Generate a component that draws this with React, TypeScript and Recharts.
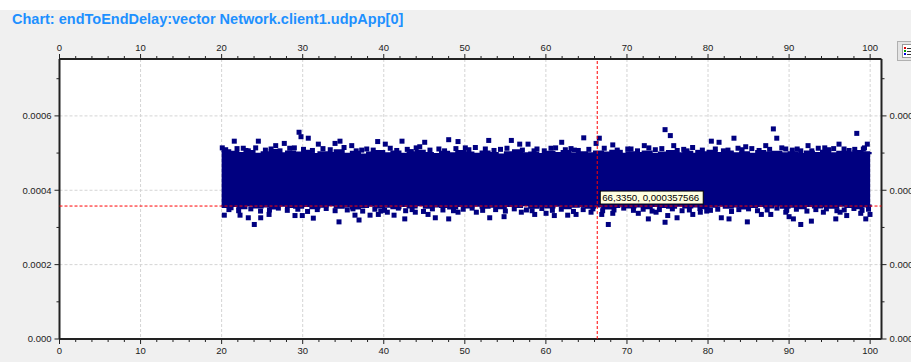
import React from 'react';
import {
  ComposedChart,
  Area,
  Scatter,
  XAxis,
  YAxis,
  CartesianGrid,
  ReferenceLine,
  ReferenceDot,
} from 'recharts';

const TITLE = 'Chart: endToEndDelay:vector Network.client1.udpApp[0]';

// axis ticks
const xTicks = [0, 2, 4, 6, 8, 10, 12, 14, 16, 18, 20, 22, 24, 26, 28, 30, 32, 34, 36, 38, 40, 42, 44, 46, 48, 50, 52, 54, 56, 58, 60, 62, 64, 66, 68, 70, 72, 74, 76, 78, 80, 82, 84, 86, 88, 90, 92, 94, 96, 98, 100];
const xMajor = [0, 10, 20, 30, 40, 50, 60, 70, 80, 90, 100];
const yTicks = [0, 0.0001, 0.0002, 0.0003, 0.0004, 0.0005, 0.0006, 0.0007];
const yMajor = [0, 0.0002, 0.0004, 0.0006];
const X_DOMAIN: [number, number] = [0, 101.4];
const Y_DOMAIN: [number, number] = [0, 0.000753];

// dense core of the scatter cloud (sampled envelope)
const bandX = [20, 21, 22, 23, 24, 25, 26, 27, 28, 29, 30, 31, 32, 33, 34, 35, 36, 37, 38, 39, 40, 41, 42, 43, 44, 45, 46, 47, 48, 49, 50, 51, 52, 53, 54, 55, 56, 57, 58, 59, 60, 61, 62, 63, 64, 65, 66, 67, 68, 69, 70, 71, 72, 73, 74, 75, 76, 77, 78, 79, 80, 81, 82, 83, 84, 85, 86, 87, 88, 89, 90, 91, 92, 93, 94, 95, 96, 97, 98, 99, 100];
const bandHigh = [
  0.000506, 0.000502, 0.000499, 0.000504, 0.000497, 0.000501, 0.000507, 0.000498, 0.000503, 0.0005,
  0.000505, 0.000496, 0.000501, 0.000499, 0.000506, 0.000497, 0.000502, 0.000495, 0.0005, 0.000504,
  0.000498, 0.000503, 0.000497, 0.000501, 0.000505, 0.000499, 0.000496, 0.000502, 0.000498, 0.000504,
  0.0005, 0.000497, 0.000503, 0.000499, 0.000495, 0.000501, 0.000506, 0.000498, 0.0005, 0.000496,
  0.000502, 0.000499, 0.000504, 0.000497, 0.000501, 0.000498, 0.000503, 0.0005, 0.000505, 0.000497,
  0.000501, 0.000499, 0.000503, 0.000496, 0.0005, 0.000504, 0.000498, 0.000502, 0.000497, 0.000501,
  0.000505, 0.000499, 0.000503, 0.000498, 0.000501, 0.000497, 0.000504, 0.0005, 0.000502, 0.000498,
  0.000501, 0.000496, 0.000503, 0.000499, 0.000505, 0.000498, 0.000502, 0.0005, 0.000504, 0.000501, 0.000503,
];
const bandLow = [
  0.000356, 0.000359, 0.000353, 0.000361, 0.000355, 0.000358, 0.000352, 0.00036, 0.000356, 0.000354,
  0.000359, 0.000353, 0.000357, 0.000361, 0.000354, 0.000358, 0.000352, 0.000356, 0.00036, 0.000355,
  0.000357, 0.000353, 0.000359, 0.000355, 0.000361, 0.000354, 0.000358, 0.000356, 0.000352, 0.000359,
  0.000355, 0.00036, 0.000354, 0.000357, 0.000353, 0.000359, 0.000356, 0.000361, 0.000354, 0.000358,
  0.000355, 0.00036, 0.000353, 0.000357, 0.000359, 0.000354, 0.000358, 0.000352, 0.000356, 0.00036,
  0.000355, 0.000358, 0.000353, 0.000359, 0.000356, 0.000354, 0.00036, 0.000355, 0.000358, 0.000353,
  0.000357, 0.00036, 0.000354, 0.000358, 0.000352, 0.000356, 0.000359, 0.000355, 0.000361, 0.000354,
  0.000357, 0.000353, 0.000359, 0.000355, 0.000358, 0.000354, 0.00036, 0.000356, 0.000353, 0.000358, 0.000355,
];

// samples along the ragged upper and lower edge of the cloud
const edgeHighX = [20.5, 21.9, 23.0, 24.2, 25.4, 26.1, 27.2, 28.4, 30.1, 31.2, 32.5, 33.4, 35.1, 36.6, 37.9, 38.7, 40.8, 41.6, 42.9, 44.0, 45.7, 46.8, 47.5, 48.9, 50.5, 51.3, 53.6, 54.4, 55.2, 57.1, 58.9, 59.8, 61.2, 62.4, 63.1, 64.0, 65.3, 67.2, 68.8, 70.1, 71.3, 72.7, 73.5, 74.3, 76.2, 77.0, 78.1, 79.3, 80.9, 81.9, 83.7, 84.2, 85.4, 86.3, 87.6, 89.1, 90.4, 91.0, 92.8, 93.6, 94.9, 95.5, 97.4, 98.1, 99.3];
const edgeHighY = [0.000509, 0.000512, 0.000507, 0.000514, 0.000508, 0.000511, 0.000506, 0.000513, 0.00051, 0.000507, 0.000512, 0.000509, 0.000515, 0.000506, 0.000511, 0.000508, 0.000513, 0.000507, 0.00051, 0.000514, 0.000508, 0.000511, 0.000506, 0.000512, 0.000509, 0.000515, 0.000507, 0.00051, 0.000513, 0.000508, 0.000511, 0.000506, 0.000514, 0.000509, 0.000512, 0.000507, 0.00051, 0.000513, 0.000508, 0.000511, 0.000506, 0.000514, 0.000509, 0.000512, 0.000507, 0.00051, 0.000515, 0.000508, 0.000511, 0.000506, 0.000513, 0.000509, 0.000512, 0.000507, 0.00051, 0.000514, 0.000508, 0.000511, 0.000506, 0.000513, 0.000509, 0.000512, 0.000507, 0.00051, 0.000514];
const edgeLowX = [20.9, 22.1, 23.6, 24.8, 25.9, 27.0, 28.1, 29.4, 30.6, 31.8, 32.9, 34.0, 35.5, 36.2, 37.4, 38.9, 40.1, 41.8, 42.7, 43.5, 44.9, 46.0, 47.3, 48.6, 49.8, 50.9, 52.2, 53.8, 55.0, 56.1, 57.6, 58.3, 59.5, 60.8, 61.9, 63.4, 64.6, 65.8, 67.0, 68.4, 69.6, 70.8, 72.0, 73.1, 74.0, 75.6, 76.8, 77.7, 79.0, 80.3, 81.2, 82.9, 83.8, 85.0, 86.1, 87.3, 88.5, 89.7, 90.9, 92.2, 93.3, 94.6, 95.9, 96.8, 98.0, 99.0, 99.8];
const edgeLowY = [0.000348, 0.000345, 0.00035, 0.000344, 0.000347, 0.000352, 0.000346, 0.000349, 0.000343, 0.000348, 0.000351, 0.000345, 0.000347, 0.00035, 0.000344, 0.000349, 0.000346, 0.000352, 0.000345, 0.000348, 0.000343, 0.00035, 0.000347, 0.000345, 0.000349, 0.000352, 0.000346, 0.000348, 0.000344, 0.00035, 0.000347, 0.000345, 0.000351, 0.000346, 0.000349, 0.000343, 0.000348, 0.00035, 0.000345, 0.000347, 0.000352, 0.000346, 0.000349, 0.000344, 0.000348, 0.00035, 0.000345, 0.000347, 0.000351, 0.000346, 0.000349, 0.000343, 0.000348, 0.00035, 0.000345, 0.000347, 0.000352, 0.000346, 0.000349, 0.000344, 0.000348, 0.00035, 0.000345, 0.000347, 0.000351, 0.000346, 0.000349];

// individual samples well outside the dense core
const highX = [21.56, 20.08, 24.53, 26.67, 27.73, 29.55, 29.79, 30.69, 28.97, 31.93, 33.99, 34.6, 36.05, 37.28, 39.25, 22.67, 23.29, 40.19, 42.25, 45.05, 48.01, 49.16, 50.06, 52.95, 52.53, 55.74, 56.77, 57.8, 58.54, 43.4, 44.44, 61.95, 64.67, 66.19, 66.59, 68.25, 69.18, 70.5, 72.14, 74.7, 75.35, 75.77, 77.41, 78.73, 60.63, 63.51, 80.41, 81.36, 83.2, 82.46, 84.65, 87.12, 88.06, 88.48, 92.34, 94.4, 96.16, 96.78, 98.35, 99.16, 99.65, 89.59, 91.44];
const highY = [0.000532, 0.000514, 0.000532, 0.00052, 0.000526, 0.000556, 0.000544, 0.00054, 0.000514, 0.000524, 0.000526, 0.000532, 0.00052, 0.000508, 0.000531, 0.000513, 0.000506, 0.000524, 0.000532, 0.000529, 0.000536, 0.000531, 0.000514, 0.000534, 0.000511, 0.000534, 0.000524, 0.000524, 0.000506, 0.000504, 0.000517, 0.000529, 0.000541, 0.000526, 0.00054, 0.000522, 0.000502, 0.000511, 0.00052, 0.000563, 0.000547, 0.00052, 0.000506, 0.000502, 0.000513, 0.000508, 0.000532, 0.000529, 0.00054, 0.000508, 0.000517, 0.00052, 0.000565, 0.00054, 0.00052, 0.000514, 0.000524, 0.000511, 0.000553, 0.000511, 0.000524, 0.000511, 0.000506];
const lowX = [20.33, 22.27, 23.29, 24.03, 24.82, 25.85, 29.05, 29.95, 31.31, 34.48, 36.45, 36.95, 38.31, 39.33, 21.16, 40.44, 41.27, 42.59, 43.89, 45.46, 46.36, 48.01, 49.16, 51.42, 53.07, 54.84, 56.97, 58.62, 39.63, 60.02, 61.04, 62.69, 63.72, 65.57, 66.89, 67.7, 68.25, 71.4, 72.64, 73.59, 74.7, 75.03, 76.18, 78.12, 79.05, 79.84, 81.64, 82.59, 84.85, 86.58, 87.74, 89.59, 90.0, 90.53, 91.44, 92.75, 94.23, 95.76, 96.29, 97.11, 98.84, 99.46, 99.98];
const lowY = [0.000333, 0.000333, 0.000326, 0.000308, 0.000326, 0.000335, 0.000332, 0.000332, 0.000325, 0.000315, 0.000333, 0.00032, 0.000333, 0.000335, 0.000353, 0.000341, 0.000333, 0.000323, 0.000341, 0.000335, 0.000326, 0.000323, 0.000341, 0.000341, 0.000326, 0.000329, 0.000341, 0.000335, 0.000344, 0.000338, 0.000332, 0.000333, 0.000335, 0.000341, 0.000335, 0.000308, 0.000338, 0.000338, 0.000323, 0.000341, 0.000314, 0.000332, 0.000326, 0.000335, 0.000341, 0.000344, 0.000326, 0.000323, 0.000315, 0.000335, 0.000335, 0.000341, 0.000329, 0.000323, 0.000308, 0.000317, 0.000341, 0.000323, 0.000341, 0.000332, 0.000338, 0.000323, 0.000335];

// cursor readout
const cursorX = 66.335;
const cursorY = 0.000357566;
const cursorLabel = '66,3350, 0,000357566';

const bandData = bandX.map((x, i) => ({ x, low: bandLow[i], high: bandHigh[i] }));
const pointData = [
  ...edgeHighX.map((x, i) => ({ x, y: edgeHighY[i] })),
  ...edgeLowX.map((x, i) => ({ x, y: edgeLowY[i] })),
  ...highX.map((x, i) => ({ x, y: highY[i] })),
  ...lowX.map((x, i) => ({ x, y: lowY[i] })),
];

const NAVY = '#000080';
const FONT = '"Liberation Sans", Arial, sans-serif';
const TS = 6;
const TM = 2;

const isMajorX = (v: number) => Math.abs(v / 10 - Math.round(v / 10)) < 1e-6;
const isMajorY = (v: number) => Math.abs(v / 0.0002 - Math.round(v / 0.0002)) < 1e-6;
const fmtY = (v: number) => (v === 0 ? '0.000' : v.toFixed(4));

const AxisTick = (props: any) => {
  const { x, y, payload, orient } = props;
  const v = payload.value as number;
  const horizontal = orient === 'top' || orient === 'bottom';
  const major = horizontal ? isMajorX(v) : isMajorY(v);
  const len = major ? 5 : 3;
  const label = major ? (horizontal ? String(v) : fmtY(v)) : '';
  const textProps = { fontSize: 9.5, fontFamily: FONT, fill: '#222' };
  if (orient === 'bottom') {
    const ay = y - TM - TS;
    return (
      <g>
        <line x1={x} x2={x} y1={ay} y2={ay + len} stroke="#222" />
        {label && <text x={x} y={y} dy="0.71em" textAnchor="middle" {...textProps}>{label}</text>}
      </g>
    );
  }
  if (orient === 'top') {
    const ay = y + TM + TS;
    return (
      <g>
        <line x1={x} x2={x} y1={ay} y2={ay - len} stroke="#222" />
        {label && <text x={x} y={y} textAnchor="middle" {...textProps}>{label}</text>}
      </g>
    );
  }
  if (orient === 'left') {
    const ax = x + TM + TS;
    return (
      <g>
        <line x1={ax} x2={ax - len} y1={y} y2={y} stroke="#222" />
        {label && <text x={x} y={y} dy="0.355em" textAnchor="end" {...textProps}>{label}</text>}
      </g>
    );
  }
  const ax = x - TM - TS;
  return (
    <g>
      <line x1={ax} x2={ax + len} y1={y} y2={y} stroke="#222" />
      {label && <text x={x} y={y} dy="0.355em" textAnchor="start" {...textProps}>{label}</text>}
    </g>
  );
};

const SquarePoint = (p: any) => (
  <rect x={p.cx - 2.5} y={p.cy - 2.5} width={5} height={5} fill={NAVY} />
);

const CursorBox = (p: any) => (
  <g>
    <rect x={p.cx + 3} y={p.cy - 15} width={103} height={13} fill="#ffffe1" stroke="#000" strokeWidth={1} />
    <text x={p.cx + 5} y={p.cy - 5} fontSize={9.7} fontFamily={FONT} fill="#000">{cursorLabel}</text>
  </g>
);

const axisLine = { stroke: '#222', strokeWidth: 2 };

export default function App() {
  return (
    <div style={{ position: 'absolute', left: 0, top: 0, width: 911, height: 362, background: '#f0f0f0', overflow: 'hidden' }}>
      <div style={{ position: 'absolute', left: 0, top: 0, width: 911, height: 10, background: '#ffffff' }} />
      <div
        style={{
          position: 'absolute', left: 12, top: 11.7, fontFamily: FONT, fontWeight: 'bold',
          fontSize: 14.5, lineHeight: '14.5px', color: '#1E90FF', whiteSpace: 'nowrap',
        }}
      >
        {TITLE}
      </div>
      <div style={{ position: 'absolute', left: 897, top: 41, width: 20, height: 20, background: '#e4e4e4', border: '1px solid #b0b0b0', boxSizing: 'border-box' }}>
        <div style={{ position: 'absolute', left: 4, top: 2, width: 12, height: 14, background: '#fff', border: '1px solid #9a9a9a', boxSizing: 'border-box' }}>
          <div style={{ position: 'absolute', left: 1, top: 2, width: 2, height: 2, background: '#e00000' }} />
          <div style={{ position: 'absolute', left: 1, top: 5, width: 2, height: 2, background: '#00a000' }} />
          <div style={{ position: 'absolute', left: 1, top: 8, width: 2, height: 2, background: '#0000e0' }} />
          <div style={{ position: 'absolute', left: 4, top: 2.5, width: 6, height: 1, background: '#333' }} />
          <div style={{ position: 'absolute', left: 4, top: 5.5, width: 6, height: 1, background: '#333' }} />
          <div style={{ position: 'absolute', left: 4, top: 8.5, width: 6, height: 1, background: '#333' }} />
        </div>
      </div>
      <div style={{ position: 'absolute', left: 0, top: 0 }}>
        <ComposedChart
          width={911}
          height={362}
          data={bandData}
          margin={{ top: 31, right: 0, bottom: 0, left: 0 }}
        >
          <CartesianGrid
            xAxisId="bottom"
            yAxisId="left"
            fill="#ffffff"
            stroke="#d4d4d4"
            strokeDasharray="3 2"
            verticalValues={xMajor}
            horizontalValues={yMajor}
          />
          <XAxis
            xAxisId="bottom"
            orientation="bottom"
            dataKey="x"
            type="number"
            domain={X_DOMAIN}
            allowDataOverflow
            ticks={xTicks}
            interval={0}
            height={23}
            tickSize={TS}
            tickMargin={TM}
            tickLine={false}
            axisLine={axisLine}
            tick={(p: any) => <AxisTick {...p} orient="bottom" />}
          />
          <XAxis
            xAxisId="top"
            orientation="top"
            dataKey="x"
            type="number"
            domain={X_DOMAIN}
            allowDataOverflow
            ticks={xTicks}
            interval={0}
            height={28}
            tickSize={TS}
            tickMargin={TM}
            tickLine={false}
            axisLine={axisLine}
            tick={(p: any) => <AxisTick {...p} orient="top" />}
          />
          <YAxis
            yAxisId="left"
            orientation="left"
            type="number"
            domain={Y_DOMAIN}
            allowDataOverflow
            ticks={yTicks}
            interval={0}
            width={59.5}
            tickSize={TS}
            tickMargin={TM}
            tickLine={false}
            axisLine={axisLine}
            tick={(p: any) => <AxisTick {...p} orient="left" />}
          />
          <YAxis
            yAxisId="right"
            orientation="right"
            type="number"
            domain={Y_DOMAIN}
            allowDataOverflow
            ticks={yTicks}
            interval={0}
            width={29.5}
            tickSize={TS}
            tickMargin={TM}
            tickLine={false}
            axisLine={axisLine}
            tick={(p: any) => <AxisTick {...p} orient="right" />}
          />
          <Area
            xAxisId="bottom"
            yAxisId="left"
            type="stepAfter"
            dataKey={(d: any) => [d.low, d.high]}
            fill={NAVY}
            fillOpacity={1}
            stroke={NAVY}
            strokeWidth={3}
            dot={false}
            activeDot={false}
            isAnimationActive={false}
          />
          <Scatter
            xAxisId="bottom"
            yAxisId="left"
            data={pointData}
            dataKey="y"
            shape={SquarePoint}
            isAnimationActive={false}
          />
          <ReferenceLine xAxisId="bottom" yAxisId="left" x={cursorX} stroke="#ff0000" strokeDasharray="3 2" zIndex={1000} />
          <ReferenceLine xAxisId="bottom" yAxisId="left" y={cursorY} stroke="#ff0000" strokeDasharray="3 2" zIndex={1000} />
          <ReferenceDot xAxisId="bottom" yAxisId="left" x={cursorX} y={cursorY} r={0} shape={CursorBox} zIndex={1100} />
        </ComposedChart>
      </div>
    </div>
  );
}
